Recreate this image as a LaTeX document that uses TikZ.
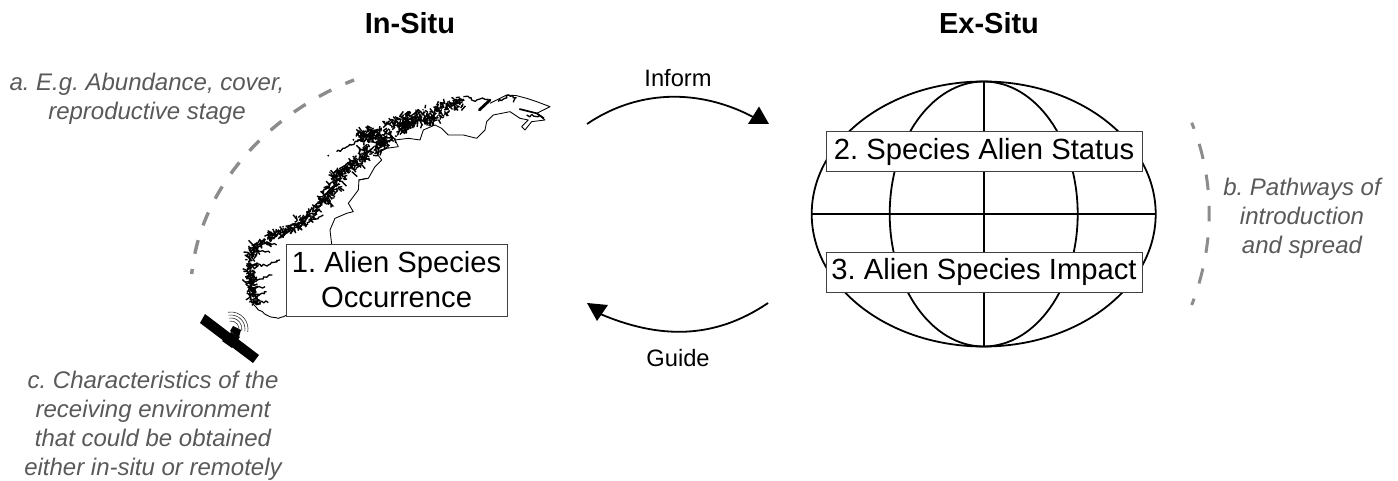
\documentclass[tikz,border=0pt]{standalone}
\usepackage{fontspec}
\setmainfont{Liberation Sans}
\frenchspacing
\usetikzlibrary{decorations.pathmorphing}
\definecolor{notegray}{HTML}{595959}
\definecolor{dashgray}{HTML}{8C8C8C}
\tikzset{
  labelbox/.style={draw=black!75,line width=0.9pt,fill=white,inner sep=0pt,align=center,font=\fontsize{29.2}{35}\selectfont},
  headtext/.style={font=\fontsize{29}{32}\selectfont\bfseries},
  flowtext/.style={font=\fontsize{23.7}{28}\selectfont},
  note/.style={text=notegray,font=\fontsize{24}{29}\selectfont\itshape,align=center},
  flowarc/.style={line width=1.8pt,black},
  tiphead/.style={fill=black,draw=none},
  dasha/.style={dashgray,line width=3.4pt,dash pattern=on 14pt off 15.5pt,dash phase=9pt},
  dashb/.style={dashgray,line width=3pt,dash pattern=on 15.5pt off 16pt,dash phase=9pt},
  globeline/.style={line width=1.8pt,black},
  border/.style={line width=0.85pt,black,line join=round},
  coastthin/.style={line width=0.9pt,black,decorate,decoration={random steps,segment length=3pt,amplitude=0.7pt}},
  coastfine/.style={line width=1.3pt,black,line join=bevel,decorate,decoration={random steps,segment length=2pt,amplitude=1.6pt}},
  blobstroke/.style={line width=1.4pt,black},
  signal/.style={line width=0.6pt,black!80},
}
% scatter of short strokes along a line: x1,y1,x2,y2,spread,count
\newcommand{\blobline}[6]{%
  \pgfmathtruncatemacro{\nn}{2*#6}%
  \foreach \i in {1,...,\nn}{%
    \pgfmathsetmacro{\tpos}{rnd}%
    \pgfmathsetmacro{\px}{#1+(#3-#1)*\tpos+1.5*#5*rand}%
    \pgfmathsetmacro{\py}{#2+(#4-#2)*\tpos+1.5*#5*rand}%
    \pgfmathsetmacro{\dx}{16*rand}%
    \pgfmathsetmacro{\dy}{16*rand}%
    \draw[blobstroke] (\px,\py) -- ++(\dx,\dy);
  }%
}
\begin{document}
\begin{tikzpicture}[x=1pt,y=-1pt]
\useasboundingbox (0,0) rectangle (1398,481);
\pgfmathsetseed{4242}

% headings
\node[headtext] (insitu) at (410,23) {In-Situ};
\node[headtext] (exsitu) at (989,23) {Ex-Situ};

% Norway, south part (traced at 3x)
\begin{scope}[shift={(235,170)},x=0.3333pt,y=-0.3333pt]
  \draw[border] (290,222) -- (285,180) -- (300,145) -- (335,130) -- (355,125) -- (340,100) -- (370,60) -- (372,30) -- (395,25);
  \draw[coastthin] (155,435) -- (130,445) -- (105,440) -- (70,420) -- (50,395);
  \blobline{58}{395}{46}{330}{8}{30}
  \blobline{46}{330}{48}{250}{7}{30}
  \blobline{48}{245}{110}{200}{8}{30}
  \blobline{110}{200}{200}{155}{9}{40}
  \blobline{200}{155}{270}{90}{8}{30}
  \blobline{270}{90}{320}{10}{11}{45}
  \draw[coastfine] (45,245) -- (105,248);
  \draw[coastfine] (45,285) -- (100,285) -- (135,270);
  \draw[coastfine] (55,340) -- (85,325) -- (112,315);
  \draw[coastfine] (55,375) -- (95,365);
  \draw[coastfine] (60,395) -- (100,398);
  \draw[coastfine] (60,355) -- (90,350);
  \draw[coastfine] (170,165) -- (210,165) -- (265,135);
  \draw[coastfine] (75,215) -- (125,225);
\end{scope}

% Norway, north part (traced at 3x)
\begin{scope}[shift={(320,85)},x=0.3333pt,y=-0.3333pt]
  \draw[border] (115,285) -- (145,280) -- (165,245) -- (185,225) -- (170,205) -- (200,190) -- (235,185) -- (225,165) -- (265,160) -- (300,165) -- (310,135) -- (345,120) -- (365,130) -- (385,150) -- (430,150) -- (470,160) -- (495,135) -- (500,110) -- (520,90) -- (570,80) -- (600,100) -- (625,105) -- (605,125) -- (615,135) -- (635,110) -- (675,105) -- (650,85) -- (690,65) -- (650,50) -- (620,40) -- (590,32) -- (560,30) -- (530,45) -- (510,55);
  \draw[coastfine] (50,200) -- (90,178) -- (125,165);
  \blobline{118}{158}{165}{140}{11}{28}
  \blobline{130}{150}{215}{150}{11}{40}
  \blobline{120}{215}{205}{170}{10}{45}
  \blobline{40}{280}{120}{222}{9}{38}
  \blobline{205}{125}{320}{88}{13}{65}
  \blobline{245}{125}{370}{85}{10}{50}
  \blobline{350}{78}{425}{50}{10}{35}
  \draw[coastfine] (430,35) -- (470,45) -- (505,42);
  \draw[line width=2.8pt,line cap=round] (478,75) -- (510,45);
  \draw[coastfine] (535,50) -- (565,30) -- (590,38) -- (580,52);
  \draw[line width=1.7pt] (598,72) -- (650,85) -- (672,100);
  \draw[coastfine] (620,90) -- (665,95);
  \fill (25,212) circle[radius=3];
  \fill (100,215) circle[radius=3];
  \fill (30,262) circle[radius=2.5];
\end{scope}

\node[labelbox,minimum width=221pt,minimum height=72pt] (occ) at (396.6,280) {1. Alien Species\\Occurrence};

% satellite
\fill[black] (205,314) -- (200,323) -- (253,363) -- (259,355) -- cycle;
\fill[black] (231,332) -- (240,337) -- (232,348) -- (222,341) -- cycle;
\fill[black] (230,331) -- (233,326) -- (241,330) -- (239,337) -- cycle;
\draw[signal] ([shift={(-100:8)}]231,329) arc[start angle=-100,end angle=10,radius=8];
\draw[signal] ([shift={(-100:11)}]231,329) arc[start angle=-100,end angle=10,radius=11];
\draw[signal] ([shift={(-100:14)}]231,329) arc[start angle=-100,end angle=10,radius=14];
\draw[signal] ([shift={(-100:17)}]231,329) arc[start angle=-100,end angle=10,radius=17];

% globe
\draw[globeline] (983.7,214) ellipse[x radius=172,y radius=132.5];
\draw[globeline] (983.7,214) ellipse[x radius=94,y radius=132.5];
\draw[globeline] (983.7,81.5) -- (983.7,346.5);
\draw[globeline] (811.7,214) -- (1155.7,214);
\node[labelbox,minimum width=316pt,minimum height=40pt] (status) at (984,151.7) {2. Species Alien Status};
\node[labelbox,minimum width=316pt,minimum height=40pt] (impact) at (984,272) {3. Alien Species Impact};

% flow arcs
\coordinate (infa) at (587,124);
\coordinate (infb) at (762,122);
\coordinate (guia) at (768,303);
\coordinate (guib) at (598,313);
\draw[flowarc] (infa) .. controls (640,88) and (705,88) .. (infb);
\fill[tiphead] (759,106.5) -- (748,124) -- (769,124) -- cycle;
\draw[flowarc] (guia) .. controls (715,339) and (660,340) .. (guib);
\fill[tiphead] (587,303) -- (608,305) -- (597,321) -- cycle;
\node[flowtext] (inform) at (678,78) {Inform};
\node[flowtext] (guide) at (678,358) {Guide};

% dashed arcs
\coordinate (da) at (191.7,274);
\coordinate (db) at (354,80);
\draw[dasha] (da) .. controls (200,190) and (265,115) .. (db);
\coordinate (dc) at (1191.7,122.7);
\coordinate (dd) at (1191.7,305);
\draw[dashb] (dc) .. controls (1215,180) and (1215,245) .. (dd);

% notes
\node[note] (na) at (147,99) {a. E.g. Abundance, cover,\\reproductive stage};
\node[note] (nb) at (1302,218) {b. Pathways of\\introduction\\and spread};
\node[note] (nc) at (153,426) {c. Characteristics of the\\receiving environment\\that could be obtained\\either in-situ or remotely};
\end{tikzpicture}
\end{document}
